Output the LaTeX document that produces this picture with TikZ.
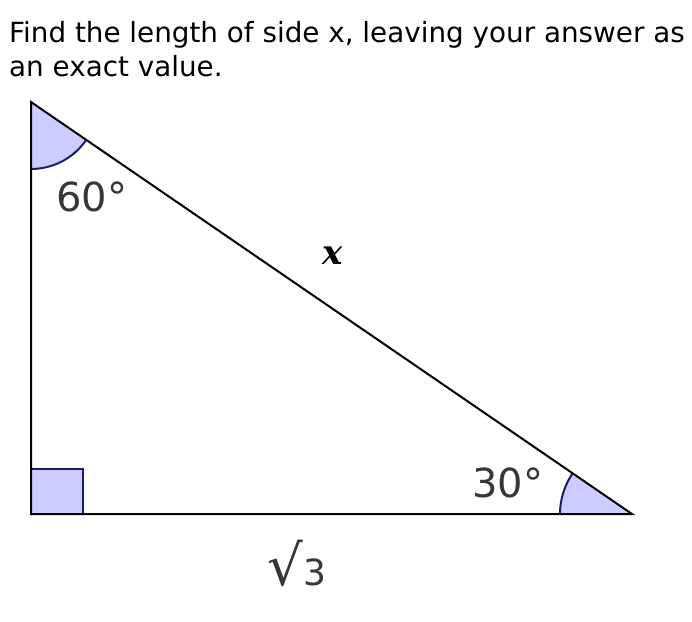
\documentclass[tikz,border=0pt]{standalone}
\usepackage{fontspec}
\setmainfont{DejaVu Sans}
\newfontfamily\sidefont{DejaVu Serif}
\usetikzlibrary{positioning}
\definecolor{anglefill}{RGB}{204,204,255}
\definecolor{anglenavy}{RGB}{26,26,110}
\definecolor{labelgray}{RGB}{55,55,55}

\begin{document}
\begin{tikzpicture}[x=1pt, y=1pt,
  question/.style={anchor=base west, inner sep=0pt, font=\fontsize{27.8}{32}\selectfont},
  anglab/.style={inner sep=0pt, text=labelgray, font=\fontsize{40}{44}\selectfont},
  side/.style={black, line width=2pt},
  wedge/.style={fill=anglefill, draw=anglenavy, line width=2pt}
]
\useasboundingbox (0,0) rectangle (692,-621);

\node[question] (q1) at (9,-42) {Find the length of side x, leaving your answer as};
\node[question] (q2) at (9,-76) {an exact value.};

\coordinate (A) at (31,-102);
\coordinate (B) at (31,-514);
\coordinate (C) at (632,-514);

% angle marks
\fill[anglefill] (A) -- ++(-90:67) arc[start angle=-90, end angle=-34.4, radius=67] -- cycle;
\draw[anglenavy, line width=2pt] (A) ++(-90:67) arc[start angle=-90, end angle=-34.4, radius=67];
\fill[anglefill] (C) -- ++(180:72) arc[start angle=180, end angle=145.6, radius=72] -- cycle;
\draw[anglenavy, line width=2pt] (C) ++(180:72) arc[start angle=180, end angle=145.6, radius=72];
\draw[wedge] (B) rectangle ++(52,45);

\draw[side] (A) -- (B) -- (C) -- cycle;

\node[anglab] (a60) at (92,-197) {60°};
\node[anglab] (a30) at (508,-483) {30°};
\node[inner sep=0pt, font=\sidefont\bfseries\itshape\fontsize{34}{36}\selectfont] (lx) at (333,-256) {x};
\node[inner sep=0pt, anchor=base, text=labelgray] (lb) at (297,-585)
  {{\fontsize{56}{56}\selectfont √}{\fontsize{36}{38}\selectfont 3}};
\end{tikzpicture}
\end{document}
